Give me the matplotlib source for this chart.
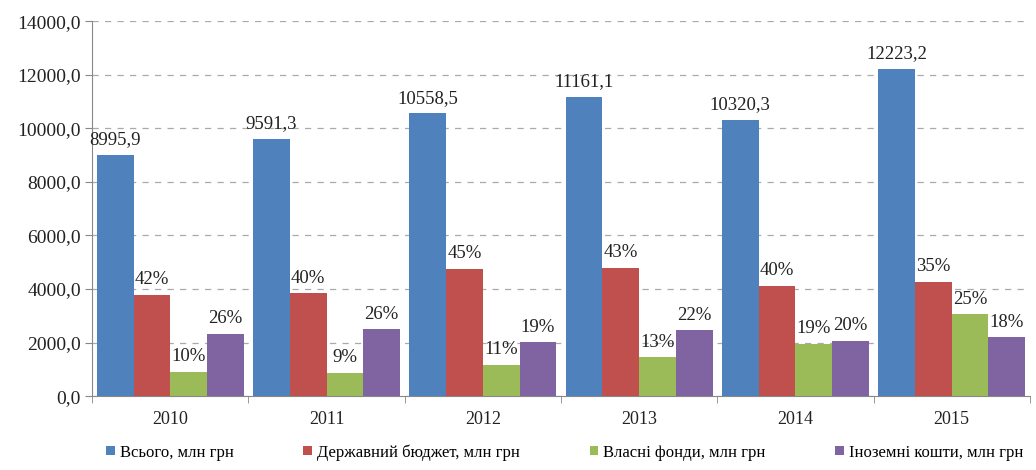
import matplotlib
matplotlib.use("Agg")
import matplotlib.pyplot as plt
import numpy as np
from matplotlib.ticker import FuncFormatter

plt.rcParams['font.family'] = ['Liberation Serif', 'DejaVu Serif']

years = ["2010", "2011", "2012", "2013", "2014", "2015"]
total = [8995.9, 9591.3, 10558.5, 11161.1, 10320.3, 12223.2]
# shares of the total, percent
budget_pct = [42, 40, 45, 43, 40, 35]
own_pct = [10, 9, 11, 13, 19, 25]
foreign_pct = [26, 26, 19, 22, 20, 18]

names = ["Всього, млн грн", "Державний бюджет, млн грн",
         "Власні фонди, млн грн", "Іноземні кошти, млн грн"]
colors = ["#4F81BD", "#C0504D", "#9BBB59", "#8064A2"]

tot = np.array(total)
series = [tot,
          tot * np.array(budget_pct) / 100,
          tot * np.array(own_pct) / 100,
          tot * np.array(foreign_pct) / 100]
labels = [[f"{v:.1f}".replace(".", ",") for v in total],
          [f"{p}%" for p in budget_pct],
          [f"{p}%" for p in own_pct],
          [f"{p}%" for p in foreign_pct]]

fig = plt.figure(figsize=(10.36, 4.70), dpi=100)
ax = fig.add_axes([0.089, 0.157, 0.905, 0.798])

x = np.arange(len(years))
w = 0.235
offsets = (np.arange(4) - 1.5) * w
for vals, lab, col, off, name in zip(series, labels, colors, offsets, names):
    bars = ax.bar(x + off, vals, w, color=col, label=name, zorder=3)
    for b, t in zip(bars, lab):
        ax.text(b.get_x() + b.get_width() / 2, b.get_height() + 250, t,
                ha="center", va="bottom", fontsize=13.5, color="#222222",
                zorder=4)

ax.set_xlim(-0.5, len(years) - 0.5)
ax.set_ylim(0, 14000)
ax.set_yticks(np.arange(0, 14001, 2000))
ax.yaxis.set_major_formatter(FuncFormatter(lambda v, p: f"{v:.1f}".replace(".", ",")))
ax.set_xticks(x)
ax.set_xticklabels(years)
ax.set_xticks(np.arange(-0.5, len(years), 1), minor=True)
ax.tick_params(axis="x", which="major", length=0, pad=11, labelsize=13, labelcolor="#222222")
ax.tick_params(axis="x", which="minor", length=5, color="#888888", direction="out")
ax.tick_params(axis="y", length=5, color="#888888", labelsize=14, labelcolor="#222222", pad=3)

ax.grid(axis="y", linestyle=(0, (5, 5)), color="#AAAAAA", linewidth=0.9, zorder=0)
for s in ["top", "right"]:
    ax.spines[s].set_visible(False)
for s in ["left", "bottom"]:
    ax.spines[s].set_color("#888888")

fig.legend(loc="lower center", bbox_to_anchor=(0.545, -0.012), ncol=4, frameon=False,
           fontsize=12, handlelength=0.5, handleheight=0.5, handletextpad=0.3,
           columnspacing=4.2)

fig.savefig("out.png", dpi=100)
